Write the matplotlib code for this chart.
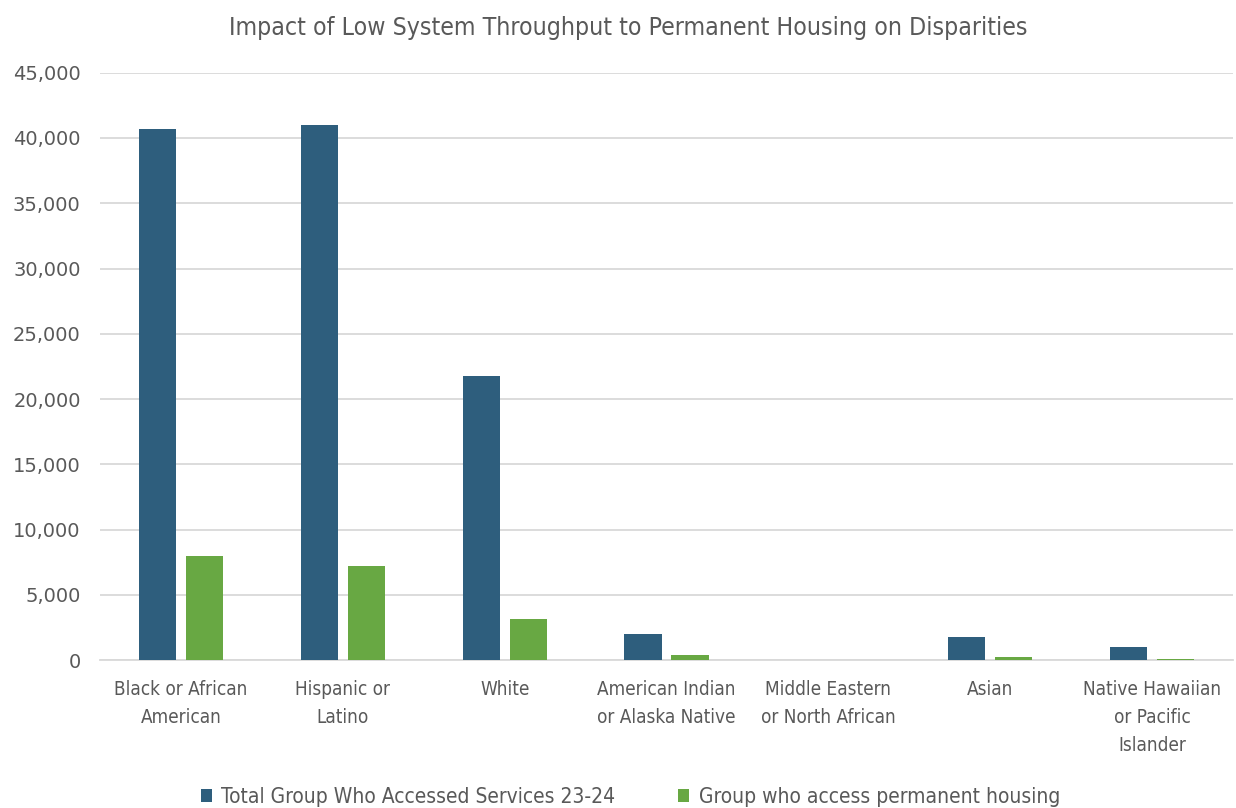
import matplotlib
matplotlib.use("Agg")
import matplotlib.pyplot as plt
import numpy as np
from matplotlib.ticker import FuncFormatter, MultipleLocator

categories = ["Black or African\nAmerican", "Hispanic or\nLatino", "White",
              "American Indian\nor Alaska Native", "Middle Eastern\nor North African",
              "Asian", "Native Hawaiian\nor Pacific\nIslander"]
total_accessed = [40700, 41000, 21800, 2000, 0, 1750, 980]
permanent_housing = [8000, 7200, 3150, 360, 0, 250, 100]
series_names = ["Total Group Who Accessed Services 23-24", "Group who access permanent housing"]

plt.rcParams['font.family'] = ['DejaVu Sans']
plt.rcParams['font.stretch'] = 'condensed'
text_color = "#595959"

fig = plt.figure(figsize=(12.36, 8.08), dpi=100)
ax = fig.add_axes([0.081, 0.183, 0.9166, 0.727])

x = np.arange(len(categories))
w = 0.23
gap = 0.06
ax.bar(x - (w + gap) / 2, total_accessed, w, color="#2E5E7D", label=series_names[0], zorder=3)
ax.bar(x + (w + gap) / 2, permanent_housing, w, color="#68A843", label=series_names[1], zorder=3)

ax.set_xlim(-0.5, len(categories) - 0.5)
ax.set_ylim(0, 45000)
ax.yaxis.set_major_locator(MultipleLocator(5000))
ax.yaxis.set_major_formatter(FuncFormatter(lambda v, p: f"{int(v):,}"))
ax.grid(axis="y", color="#D9D9D9", linewidth=1.3, zorder=0)
for s in ["top", "right", "left"]:
    ax.spines[s].set_visible(False)
ax.spines["bottom"].set_color("#D9D9D9")
ax.spines["bottom"].set_linewidth(1.3)
ax.tick_params(axis="both", length=0, colors=text_color)
ax.tick_params(axis="x", pad=14)
ax.tick_params(axis="y", pad=14)
ax.set_xticks(x)
ax.set_xticklabels(categories, color=text_color, fontsize=13.6, linespacing=1.6)
for lbl in ax.get_yticklabels():
    lbl.set_fontstretch('normal')
    lbl.set_fontsize(14)
    lbl.set_color(text_color)

fig.text(0.508, 0.965, "Impact of Low System Throughput to Permanent Housing on Disparities",
         color=text_color, fontsize=17.8, ha="center", va="center")

leg = fig.legend(loc="lower center", bbox_to_anchor=(0.51, -0.022), ncol=2, frameon=False,
                 fontsize=15, handlelength=0.55, handleheight=0.55, columnspacing=3.0,
                 handletextpad=0.45)
for t in leg.get_texts():
    t.set_color(text_color)

fig.savefig("out.png", dpi=100)
